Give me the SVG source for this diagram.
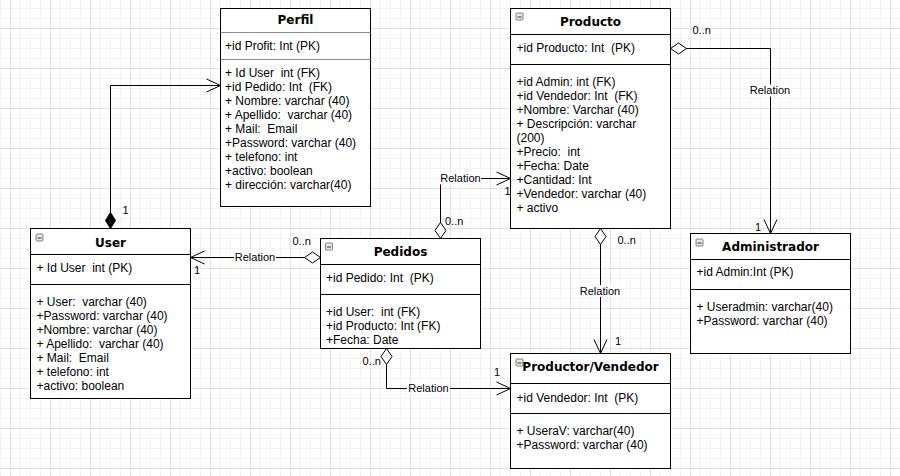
<svg xmlns="http://www.w3.org/2000/svg" xmlns:xlink="http://www.w3.org/1999/xlink" width="900" height="476" viewBox="0 0 900 476" xml:space="preserve">
<style>
.box{fill:#fff;stroke:#000;stroke-width:1}
.sep{stroke:#000;stroke-width:1}
.sepg{stroke:#8c8c8c;stroke-width:1}
.title{font-family:"DejaVu Sans",Verdana,sans-serif;font-weight:bold;font-size:12px;fill:#000;text-anchor:middle}
.attr{font-family:"Liberation Sans",Arial,sans-serif;font-size:12px;fill:#000;white-space:pre}
.lbl{font-family:"Liberation Sans",Arial,sans-serif;font-size:11px;fill:#000}
.mid{text-anchor:middle}
.edge{fill:none;stroke:#000;stroke-width:1}
.lblbg{fill:#fff}
</style>
<defs>
<pattern id="grid" patternUnits="userSpaceOnUse" x="10" y="28" width="40" height="40">
<path d="M10.5 0V40M20.5 0V40M30.5 0V40M0 10.5H40M0 20.5H40M0 30.5H40" stroke="#f3f3f3" stroke-width="1" fill="none"/>
<path d="M0.5 0V40M0 0.5H40" stroke="#e2e2e2" stroke-width="1" fill="none"/>
</pattern>
<marker id="arrow" markerUnits="userSpaceOnUse" markerWidth="20" markerHeight="20" refX="14" refY="6.5" orient="auto" overflow="visible">
<path d="M0 0L14 6.5L0 13" fill="none" stroke="#000" stroke-width="1"/>
</marker>
<marker id="dia" markerUnits="userSpaceOnUse" markerWidth="20" markerHeight="20" refX="0" refY="5.5" orient="auto" overflow="visible">
<path d="M0 5.5L8 0L16 5.5L8 11Z" fill="#fff" stroke="#000" stroke-width="1"/>
</marker>
<marker id="diaf" markerUnits="userSpaceOnUse" markerWidth="20" markerHeight="20" refX="0" refY="5" orient="auto" overflow="visible">
<path d="M0 5L8 0L16 5L8 10Z" fill="#000" stroke="#000" stroke-width="1"/>
</marker>
<g id="tog">
<rect x="0.5" y="0.5" width="7" height="7" rx="1" fill="#e8e8e8" stroke="#808080"/>
<path d="M2 4.5H6" stroke="#333" stroke-width="1"/>
</g>
</defs>
<rect width="900" height="476" fill="#fff"/>
<rect width="900" height="476" fill="url(#grid)"/>

<g id="connectors">
<path class="edge" d="M110.5 228.5V85.5H220.5" marker-start="url(#diaf)" marker-end="url(#arrow)"/>
<path class="edge" d="M320.5 257.5H190.5" marker-start="url(#dia)" marker-end="url(#arrow)"/>
<path class="edge" d="M440.5 238.5V178.5H510.5" marker-start="url(#dia)" marker-end="url(#arrow)"/>
<path class="edge" d="M670.5 48.5H770.5V233.5" marker-start="url(#dia)" marker-end="url(#arrow)"/>
<path class="edge" d="M600.5 228.5V353.5" marker-start="url(#dia)" marker-end="url(#arrow)"/>
<path class="edge" d="M386.5 348.5V388.5H510.5" marker-start="url(#dia)" marker-end="url(#arrow)"/>
<text class="lbl" x="122.5" y="214">1</text>
<rect class="lblbg" x="234" y="251" width="42" height="12"/>
<text class="lbl mid" x="255" y="260.5">Relation</text>
<text class="lbl" x="292.5" y="245">0..n</text>
<text class="lbl" x="194" y="274">1</text>
<rect class="lblbg" x="440" y="172.5" width="41" height="12"/>
<text class="lbl mid" x="460.5" y="182">Relation</text>
<text class="lbl" x="445" y="224.5">0..n</text>
<text class="lbl" x="504.5" y="195">1</text>
<rect class="lblbg" x="749" y="84.5" width="42" height="12"/>
<text class="lbl mid" x="770" y="94">Relation</text>
<text class="lbl" x="692.5" y="33.5">0..n</text>
<text class="lbl" x="755" y="230.5">1</text>
<rect class="lblbg" x="579" y="285" width="42" height="12"/>
<text class="lbl mid" x="600" y="294.5">Relation</text>
<text class="lbl" x="617.5" y="243.5">0..n</text>
<text class="lbl" x="615" y="345">1</text>
<rect class="lblbg" x="407" y="382.5" width="43" height="12"/>
<text class="lbl mid" x="428.5" y="392">Relation</text>
<text class="lbl" x="362.5" y="364.5">0..n</text>
<text class="lbl" x="494" y="376">1</text>
</g>

<g id="perfil">
<rect class="box" x="220.5" y="8.5" width="150" height="198"/>
<path class="sepg" d="M220.5 32.5H370.5M220.5 59.5H370.5"/>
<text class="title" x="295.5" y="23.5">Perfil</text>
<text class="attr" x="225" y="49.5">+id Profit: Int (PK)</text>
<text class="attr" x="225" y="76.5">+ Id User  int (FK)</text>
<text class="attr" x="225" y="90.5">+id Pedido: Int  (FK)</text>
<text class="attr" x="225" y="104.5">+ Nombre: varchar (40)</text>
<text class="attr" x="225" y="118.5">+ Apellido:  varchar (40)</text>
<text class="attr" x="225" y="132.5">+ Mail:  Email</text>
<text class="attr" x="225" y="146.5">+Password: varchar (40)</text>
<text class="attr" x="225" y="160.5">+ telefono: int</text>
<text class="attr" x="225" y="174.5">+activo: boolean</text>
<text class="attr" x="225" y="188.5">+ dirección: varchar(40)</text>
</g>

<g id="producto">
<rect class="box" x="510.5" y="8.5" width="160" height="220"/>
<path class="sep" d="M510.5 34.5H670.5M510.5 64.5H670.5"/>
<use xlink:href="#tog" href="#tog" x="515.5" y="12.5"/>
<text class="title" x="590.5" y="26">Producto</text>
<text class="attr" x="516.5" y="51.5">+id Producto: Int  (PK)</text>
<text class="attr" x="516.5" y="85.5">+id Admin: int (FK)</text>
<text class="attr" x="516.5" y="99.5">+id Vendedor: Int  (FK)</text>
<text class="attr" x="516.5" y="113.5">+Nombre: Varchar (40)</text>
<text class="attr" x="516.5" y="127.5">+ Descripción: varchar</text>
<text class="attr" x="516.5" y="141.5">(200)</text>
<text class="attr" x="516.5" y="155.5">+Precio:  int</text>
<text class="attr" x="516.5" y="169.5">+Fecha: Date</text>
<text class="attr" x="516.5" y="183.5">+Cantidad: Int</text>
<text class="attr" x="516.5" y="197.5">+Vendedor: varchar (40)</text>
<text class="attr" x="516.5" y="211.5">+ activo</text>
</g>

<g id="user">
<rect class="box" x="30.5" y="228.5" width="160" height="170"/>
<path class="sep" d="M30.5 254.5H190.5M30.5 284.5H190.5"/>
<use xlink:href="#tog" href="#tog" x="35.5" y="233.5"/>
<text class="title" x="110.5" y="246.5">User</text>
<text class="attr" x="36.5" y="271.5">+ Id User  int (PK)</text>
<text class="attr" x="36.5" y="305.5">+ User:  varchar (40)</text>
<text class="attr" x="36.5" y="319.5">+Password: varchar (40)</text>
<text class="attr" x="36.5" y="333.5">+Nombre: varchar (40)</text>
<text class="attr" x="36.5" y="347.5">+ Apellido:  varchar (40)</text>
<text class="attr" x="36.5" y="361.5">+ Mail:  Email</text>
<text class="attr" x="36.5" y="375.5">+ telefono: int</text>
<text class="attr" x="36.5" y="389.5">+activo: boolean</text>
</g>

<g id="pedidos">
<rect class="box" x="320.5" y="238.5" width="160" height="110"/>
<path class="sep" d="M320.5 264.5H480.5M320.5 294.5H480.5"/>
<use xlink:href="#tog" href="#tog" x="325" y="242.5"/>
<text class="title" x="400.5" y="256">Pedidos</text>
<text class="attr" x="326" y="281.5">+id Pedido: Int  (PK)</text>
<text class="attr" x="326" y="315.5">+id User:  int (FK)</text>
<text class="attr" x="326" y="329.5">+id Producto: Int (FK)</text>
<text class="attr" x="326" y="343.5">+Fecha: Date</text>
</g>

<g id="productor-vendedor">
<rect class="box" x="510.5" y="353.5" width="160" height="115"/>
<path class="sep" d="M510.5 383.5H670.5M510.5 413.5H670.5"/>
<use xlink:href="#tog" href="#tog" x="515.5" y="358.5"/>
<text class="title" x="590.5" y="371">Productor/Vendedor</text>
<text class="attr" x="516.5" y="401.5">+id Vendedor: Int  (PK)</text>
<text class="attr" x="516.5" y="434.5">+ UseraV: varchar(40)</text>
<text class="attr" x="516.5" y="448.5">+Password: varchar (40)</text>
</g>

<g id="administrador">
<rect class="box" x="690.5" y="233.5" width="160" height="120"/>
<path class="sep" d="M690.5 259.5H850.5M690.5 289.5H850.5"/>
<use xlink:href="#tog" href="#tog" x="695.5" y="238.5"/>
<text class="title" x="770.5" y="250.5">Administrador</text>
<text class="attr" x="696.5" y="276">+id Admin:Int (PK)</text>
<text class="attr" x="696.5" y="310.5">+ Useradmin: varchar(40)</text>
<text class="attr" x="696.5" y="324.5">+Password: varchar (40)</text>
</g>
</svg>
